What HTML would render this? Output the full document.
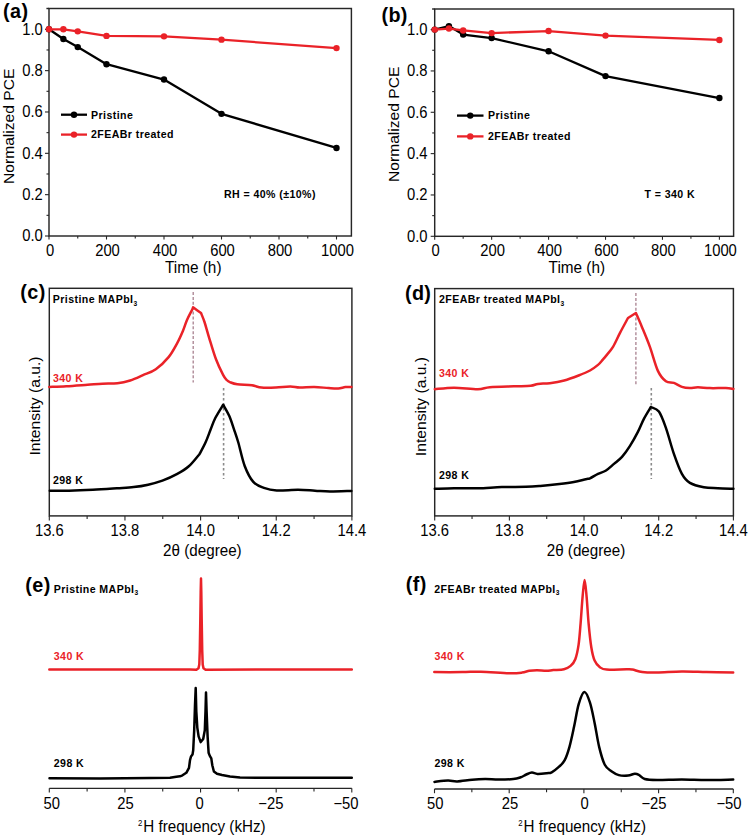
<!DOCTYPE html>
<html><head><meta charset="utf-8"><title>Figure</title>
<style>
html,body{margin:0;padding:0;background:#fff;}
svg{display:block;}
text{font-family:"Liberation Sans",sans-serif;}
</style></head>
<body>
<svg width="751" height="837" viewBox="0 0 751 837">
<rect x="0" y="0" width="751" height="837" fill="#fff"/>
<rect x="49" y="8.5" width="302.4" height="227.5" fill="none" stroke="#262626" stroke-width="1.45"/>
<line x1="46.4" y1="8.5" x2="49" y2="8.5" stroke="#262626" stroke-width="1.45" />
<line x1="45" y1="236" x2="49" y2="236" stroke="#262626" stroke-width="1.1" />
<text transform="translate(42.8,241.3) scale(1,1.07)" font-size="14.8" font-weight="normal" text-anchor="end" fill="#000" >0.0</text>
<line x1="46.5" y1="215.33" x2="49" y2="215.33" stroke="#262626" stroke-width="1.1" />
<line x1="45" y1="194.66" x2="49" y2="194.66" stroke="#262626" stroke-width="1.1" />
<text transform="translate(42.8,199.96) scale(1,1.07)" font-size="14.8" font-weight="normal" text-anchor="end" fill="#000" >0.2</text>
<line x1="46.5" y1="173.99" x2="49" y2="173.99" stroke="#262626" stroke-width="1.1" />
<line x1="45" y1="153.32" x2="49" y2="153.32" stroke="#262626" stroke-width="1.1" />
<text transform="translate(42.8,158.62) scale(1,1.07)" font-size="14.8" font-weight="normal" text-anchor="end" fill="#000" >0.4</text>
<line x1="46.5" y1="132.65" x2="49" y2="132.65" stroke="#262626" stroke-width="1.1" />
<line x1="45" y1="111.98" x2="49" y2="111.98" stroke="#262626" stroke-width="1.1" />
<text transform="translate(42.8,117.28) scale(1,1.07)" font-size="14.8" font-weight="normal" text-anchor="end" fill="#000" >0.6</text>
<line x1="46.5" y1="91.31" x2="49" y2="91.31" stroke="#262626" stroke-width="1.1" />
<line x1="45" y1="70.64" x2="49" y2="70.64" stroke="#262626" stroke-width="1.1" />
<text transform="translate(42.8,75.94) scale(1,1.07)" font-size="14.8" font-weight="normal" text-anchor="end" fill="#000" >0.8</text>
<line x1="46.5" y1="49.97" x2="49" y2="49.97" stroke="#262626" stroke-width="1.1" />
<line x1="45" y1="29.3" x2="49" y2="29.3" stroke="#262626" stroke-width="1.1" />
<text transform="translate(42.8,34.6) scale(1,1.07)" font-size="14.8" font-weight="normal" text-anchor="end" fill="#000" >1.0</text>
<line x1="49" y1="236" x2="49" y2="239.5" stroke="#262626" stroke-width="1.1" />
<text transform="translate(50,256.2) scale(1,1.07)" font-size="14.8" font-weight="normal" text-anchor="middle" fill="#000" >0</text>
<line x1="77.75" y1="236" x2="77.75" y2="238.5" stroke="#262626" stroke-width="1.1" />
<line x1="106.5" y1="236" x2="106.5" y2="239.5" stroke="#262626" stroke-width="1.1" />
<text transform="translate(107.5,256.2) scale(1,1.07)" font-size="14.8" font-weight="normal" text-anchor="middle" fill="#000" >200</text>
<line x1="135.25" y1="236" x2="135.25" y2="238.5" stroke="#262626" stroke-width="1.1" />
<line x1="164" y1="236" x2="164" y2="239.5" stroke="#262626" stroke-width="1.1" />
<text transform="translate(165,256.2) scale(1,1.07)" font-size="14.8" font-weight="normal" text-anchor="middle" fill="#000" >400</text>
<line x1="192.75" y1="236" x2="192.75" y2="238.5" stroke="#262626" stroke-width="1.1" />
<line x1="221.5" y1="236" x2="221.5" y2="239.5" stroke="#262626" stroke-width="1.1" />
<text transform="translate(222.5,256.2) scale(1,1.07)" font-size="14.8" font-weight="normal" text-anchor="middle" fill="#000" >600</text>
<line x1="250.25" y1="236" x2="250.25" y2="238.5" stroke="#262626" stroke-width="1.1" />
<line x1="279" y1="236" x2="279" y2="239.5" stroke="#262626" stroke-width="1.1" />
<text transform="translate(280,256.2) scale(1,1.07)" font-size="14.8" font-weight="normal" text-anchor="middle" fill="#000" >800</text>
<line x1="307.75" y1="236" x2="307.75" y2="238.5" stroke="#262626" stroke-width="1.1" />
<line x1="336.5" y1="236" x2="336.5" y2="239.5" stroke="#262626" stroke-width="1.1" />
<text transform="translate(337.5,256.2) scale(1,1.07)" font-size="14.8" font-weight="normal" text-anchor="middle" fill="#000" >1000</text>
<text transform="translate(165,272.9) scale(1,1.07)" font-size="15.35" font-weight="normal" text-anchor="start" fill="#000" >Time (h)</text>
<text transform="translate(13.6,126.3) scale(1,1.028) rotate(-90)" font-size="15.2" font-weight="normal" text-anchor="middle" fill="#000" >Normalized PCE</text>
<text transform="translate(3,17.6) scale(1,1.0)" font-size="19.8" font-weight="bold" text-anchor="start" fill="#000" letter-spacing="0.4">(a)</text>
<polyline points="49,29.3 63.38,39.01 77.75,47.08 106.5,64.23 164,79.53 221.5,113.84 336.5,147.95" fill="none" stroke="#000" stroke-width="2.3" stroke-linejoin="round" stroke-linecap="round" />
<circle cx="49" cy="29.3" r="3.2" fill="#000"/>
<circle cx="63.38" cy="39.01" r="3.2" fill="#000"/>
<circle cx="77.75" cy="47.08" r="3.2" fill="#000"/>
<circle cx="106.5" cy="64.23" r="3.2" fill="#000"/>
<circle cx="164" cy="79.53" r="3.2" fill="#000"/>
<circle cx="221.5" cy="113.84" r="3.2" fill="#000"/>
<circle cx="336.5" cy="147.95" r="3.2" fill="#000"/>
<polyline points="49,29.3 63.38,29.3 77.75,31.37 106.5,35.91 164,36.33 221.5,39.64 336.5,48.11" fill="none" stroke="#ea2228" stroke-width="2.3" stroke-linejoin="round" stroke-linecap="round" />
<circle cx="49" cy="29.3" r="3.2" fill="#ea2228"/>
<circle cx="63.38" cy="29.3" r="3.2" fill="#ea2228"/>
<circle cx="77.75" cy="31.37" r="3.2" fill="#ea2228"/>
<circle cx="106.5" cy="35.91" r="3.2" fill="#ea2228"/>
<circle cx="164" cy="36.33" r="3.2" fill="#ea2228"/>
<circle cx="221.5" cy="39.64" r="3.2" fill="#ea2228"/>
<circle cx="336.5" cy="48.11" r="3.2" fill="#ea2228"/>
<line x1="61" y1="114.7" x2="87" y2="114.7" stroke="#000" stroke-width="2.3" />
<circle cx="74" cy="114.7" r="3.2" fill="#000"/>
<line x1="61" y1="134.6" x2="87" y2="134.6" stroke="#ea2228" stroke-width="2.3" />
<circle cx="74" cy="134.6" r="3.2" fill="#ea2228"/>
<text transform="translate(91,118.5) scale(1,1.07)" font-size="10.6" font-weight="bold" text-anchor="start" fill="#000"  letter-spacing="0.42">Pristine</text>
<text transform="translate(91,138.2) scale(1,1.07)" font-size="10.6" font-weight="bold" text-anchor="start" fill="#000"  letter-spacing="0.42">2FEABr treated</text>
<text transform="translate(224,198.4) scale(1,1.07)" font-size="10.6" font-weight="bold" text-anchor="start" fill="#000"  letter-spacing="0.42">RH = 40% (±10%)</text>
<rect x="434.7" y="9" width="298.9" height="227.3" fill="none" stroke="#262626" stroke-width="1.45"/>
<line x1="432.1" y1="9" x2="434.7" y2="9" stroke="#262626" stroke-width="1.45" />
<line x1="430.7" y1="236.3" x2="434.7" y2="236.3" stroke="#262626" stroke-width="1.1" />
<text transform="translate(427.5,241.6) scale(1,1.07)" font-size="14.8" font-weight="normal" text-anchor="end" fill="#000" >0.0</text>
<line x1="432.2" y1="215.63" x2="434.7" y2="215.63" stroke="#262626" stroke-width="1.1" />
<line x1="430.7" y1="194.96" x2="434.7" y2="194.96" stroke="#262626" stroke-width="1.1" />
<text transform="translate(427.5,200.26) scale(1,1.07)" font-size="14.8" font-weight="normal" text-anchor="end" fill="#000" >0.2</text>
<line x1="432.2" y1="174.29" x2="434.7" y2="174.29" stroke="#262626" stroke-width="1.1" />
<line x1="430.7" y1="153.62" x2="434.7" y2="153.62" stroke="#262626" stroke-width="1.1" />
<text transform="translate(427.5,158.92) scale(1,1.07)" font-size="14.8" font-weight="normal" text-anchor="end" fill="#000" >0.4</text>
<line x1="432.2" y1="132.95" x2="434.7" y2="132.95" stroke="#262626" stroke-width="1.1" />
<line x1="430.7" y1="112.28" x2="434.7" y2="112.28" stroke="#262626" stroke-width="1.1" />
<text transform="translate(427.5,117.58) scale(1,1.07)" font-size="14.8" font-weight="normal" text-anchor="end" fill="#000" >0.6</text>
<line x1="432.2" y1="91.61" x2="434.7" y2="91.61" stroke="#262626" stroke-width="1.1" />
<line x1="430.7" y1="70.94" x2="434.7" y2="70.94" stroke="#262626" stroke-width="1.1" />
<text transform="translate(427.5,76.24) scale(1,1.07)" font-size="14.8" font-weight="normal" text-anchor="end" fill="#000" >0.8</text>
<line x1="432.2" y1="50.27" x2="434.7" y2="50.27" stroke="#262626" stroke-width="1.1" />
<line x1="430.7" y1="29.6" x2="434.7" y2="29.6" stroke="#262626" stroke-width="1.1" />
<text transform="translate(427.5,34.9) scale(1,1.07)" font-size="14.8" font-weight="normal" text-anchor="end" fill="#000" >1.0</text>
<line x1="434.7" y1="236.3" x2="434.7" y2="239.8" stroke="#262626" stroke-width="1.1" />
<text transform="translate(435.7,256.2) scale(1,1.07)" font-size="14.8" font-weight="normal" text-anchor="middle" fill="#000" >0</text>
<line x1="463.17" y1="236.3" x2="463.17" y2="238.8" stroke="#262626" stroke-width="1.1" />
<line x1="491.64" y1="236.3" x2="491.64" y2="239.8" stroke="#262626" stroke-width="1.1" />
<text transform="translate(492.64,256.2) scale(1,1.07)" font-size="14.8" font-weight="normal" text-anchor="middle" fill="#000" >200</text>
<line x1="520.11" y1="236.3" x2="520.11" y2="238.8" stroke="#262626" stroke-width="1.1" />
<line x1="548.58" y1="236.3" x2="548.58" y2="239.8" stroke="#262626" stroke-width="1.1" />
<text transform="translate(549.58,256.2) scale(1,1.07)" font-size="14.8" font-weight="normal" text-anchor="middle" fill="#000" >400</text>
<line x1="577.05" y1="236.3" x2="577.05" y2="238.8" stroke="#262626" stroke-width="1.1" />
<line x1="605.52" y1="236.3" x2="605.52" y2="239.8" stroke="#262626" stroke-width="1.1" />
<text transform="translate(606.52,256.2) scale(1,1.07)" font-size="14.8" font-weight="normal" text-anchor="middle" fill="#000" >600</text>
<line x1="633.99" y1="236.3" x2="633.99" y2="238.8" stroke="#262626" stroke-width="1.1" />
<line x1="662.46" y1="236.3" x2="662.46" y2="239.8" stroke="#262626" stroke-width="1.1" />
<text transform="translate(663.46,256.2) scale(1,1.07)" font-size="14.8" font-weight="normal" text-anchor="middle" fill="#000" >800</text>
<line x1="690.93" y1="236.3" x2="690.93" y2="238.8" stroke="#262626" stroke-width="1.1" />
<line x1="719.4" y1="236.3" x2="719.4" y2="239.8" stroke="#262626" stroke-width="1.1" />
<text transform="translate(720.4,256.2) scale(1,1.07)" font-size="14.8" font-weight="normal" text-anchor="middle" fill="#000" >1000</text>
<text transform="translate(548.6,272.9) scale(1,1.07)" font-size="15.35" font-weight="normal" text-anchor="start" fill="#000" >Time (h)</text>
<text transform="translate(399.2,124.3) scale(1,1.028) rotate(-90)" font-size="15.2" font-weight="normal" text-anchor="middle" fill="#000" >Normalized PCE</text>
<text transform="translate(381.4,21.7) scale(1,1.0)" font-size="19.8" font-weight="bold" text-anchor="start" fill="#000" letter-spacing="0.4">(b)</text>
<polyline points="434.7,29.6 448.94,26.09 463.17,34.56 491.64,38.07 548.58,51.3 605.52,76.11 719.4,98.02" fill="none" stroke="#000" stroke-width="2.3" stroke-linejoin="round" stroke-linecap="round" />
<circle cx="434.7" cy="29.6" r="3.2" fill="#000"/>
<circle cx="448.94" cy="26.09" r="3.2" fill="#000"/>
<circle cx="463.17" cy="34.56" r="3.2" fill="#000"/>
<circle cx="491.64" cy="38.07" r="3.2" fill="#000"/>
<circle cx="548.58" cy="51.3" r="3.2" fill="#000"/>
<circle cx="605.52" cy="76.11" r="3.2" fill="#000"/>
<circle cx="719.4" cy="98.02" r="3.2" fill="#000"/>
<polyline points="434.7,29.6 448.94,28.57 463.17,30.43 491.64,33.11 548.58,31.05 605.52,35.59 719.4,39.94" fill="none" stroke="#ea2228" stroke-width="2.3" stroke-linejoin="round" stroke-linecap="round" />
<circle cx="434.7" cy="29.6" r="3.2" fill="#ea2228"/>
<circle cx="448.94" cy="28.57" r="3.2" fill="#ea2228"/>
<circle cx="463.17" cy="30.43" r="3.2" fill="#ea2228"/>
<circle cx="491.64" cy="33.11" r="3.2" fill="#ea2228"/>
<circle cx="548.58" cy="31.05" r="3.2" fill="#ea2228"/>
<circle cx="605.52" cy="35.59" r="3.2" fill="#ea2228"/>
<circle cx="719.4" cy="39.94" r="3.2" fill="#ea2228"/>
<line x1="457" y1="115.6" x2="483.5" y2="115.6" stroke="#000" stroke-width="2.3" />
<circle cx="470.25" cy="115.6" r="3.2" fill="#000"/>
<line x1="457" y1="136.4" x2="483.5" y2="136.4" stroke="#ea2228" stroke-width="2.3" />
<circle cx="470.25" cy="136.4" r="3.2" fill="#ea2228"/>
<text transform="translate(488,119.4) scale(1,1.07)" font-size="10.6" font-weight="bold" text-anchor="start" fill="#000"  letter-spacing="0.42">Pristine</text>
<text transform="translate(488,140) scale(1,1.07)" font-size="10.6" font-weight="bold" text-anchor="start" fill="#000"  letter-spacing="0.42">2FEABr treated</text>
<text transform="translate(644.5,198.3) scale(1,1.07)" font-size="10.6" font-weight="bold" text-anchor="start" fill="#000"  letter-spacing="0.42">T = 340 K</text>
<rect x="49.3" y="288.3" width="302.6" height="227.6" fill="none" stroke="#262626" stroke-width="1.45"/>
<line x1="49.3" y1="515.9" x2="49.3" y2="520.5" stroke="#262626" stroke-width="1.1" />
<text transform="translate(49.3,535.6) scale(1,1.07)" font-size="14.8" font-weight="normal" text-anchor="middle" fill="#000" >13.6</text>
<line x1="87.12" y1="515.9" x2="87.12" y2="518.9" stroke="#262626" stroke-width="1.1" />
<line x1="124.95" y1="515.9" x2="124.95" y2="520.5" stroke="#262626" stroke-width="1.1" />
<text transform="translate(124.95,535.6) scale(1,1.07)" font-size="14.8" font-weight="normal" text-anchor="middle" fill="#000" >13.8</text>
<line x1="162.77" y1="515.9" x2="162.77" y2="518.9" stroke="#262626" stroke-width="1.1" />
<line x1="200.6" y1="515.9" x2="200.6" y2="520.5" stroke="#262626" stroke-width="1.1" />
<text transform="translate(200.6,535.6) scale(1,1.07)" font-size="14.8" font-weight="normal" text-anchor="middle" fill="#000" >14.0</text>
<line x1="238.42" y1="515.9" x2="238.42" y2="518.9" stroke="#262626" stroke-width="1.1" />
<line x1="276.25" y1="515.9" x2="276.25" y2="520.5" stroke="#262626" stroke-width="1.1" />
<text transform="translate(276.25,535.6) scale(1,1.07)" font-size="14.8" font-weight="normal" text-anchor="middle" fill="#000" >14.2</text>
<line x1="314.07" y1="515.9" x2="314.07" y2="518.9" stroke="#262626" stroke-width="1.1" />
<line x1="351.9" y1="515.9" x2="351.9" y2="520.5" stroke="#262626" stroke-width="1.1" />
<text transform="translate(351.9,535.6) scale(1,1.07)" font-size="14.8" font-weight="normal" text-anchor="middle" fill="#000" >14.4</text>
<text transform="translate(163.1,555.8) scale(1,1.07)" font-size="15.2" font-weight="normal" text-anchor="start" fill="#000" >2θ (degree)</text>
<text transform="translate(40,406) scale(1,1.03) rotate(-90)" font-size="15.2" font-weight="normal" text-anchor="middle" fill="#000" >Intensity (a.u.)</text>
<text transform="translate(20.3,299.2) scale(1,1.0)" font-size="19.8" font-weight="bold" text-anchor="start" fill="#000" letter-spacing="0.4">(c)</text>
<text transform="translate(52.8,303.4) scale(1,1.07)" font-size="10.6" font-weight="bold" text-anchor="start" fill="#000"  letter-spacing="0.42">Pristine MAPbI<tspan font-size="6.6" dy="2.1">3</tspan></text>
<line x1="193.2" y1="292" x2="193.2" y2="382.5" stroke="#a8808f" stroke-width="1.3" stroke-dasharray="3,1.9"/>
<line x1="223.6" y1="388" x2="223.6" y2="479" stroke="#8a8a8a" stroke-width="1.6" stroke-dasharray="2.6,2.4"/>
<path d="M49.3,386.9 C52.13,386.8 59.92,386.65 66.3,386.3 C72.68,385.95 81.57,385.23 87.6,384.8 C93.63,384.37 97.53,383.95 102.5,383.7 C107.47,383.45 112.78,383.83 117.4,383.3 C122.02,382.77 125.93,381.85 130.2,380.5 C134.47,379.15 138.73,377.08 143,375.2 C147.27,373.32 151.53,372.22 155.8,369.2 C160.07,366.18 165.05,361.42 168.6,357.1 C172.15,352.78 174.7,347.7 177.1,343.3 C179.5,338.9 181.35,334.58 183,330.7 C184.65,326.82 185.5,323.45 187,320 C188.5,316.55 190.98,312.12 192,310 C193.02,307.88 192.92,307.75 193.1,307.3 C194.42,308.25 199.68,312.05 201,313 C201.58,314.5 203.17,317.95 204.5,322 C205.83,326.05 207.08,331.08 209,337.3 C210.92,343.52 213.65,353.03 216,359.3 C218.35,365.57 221.32,371.45 223.1,374.9 C224.88,378.35 225.5,378.77 226.7,380 C227.9,381.23 228.53,381.58 230.3,382.3 C232.07,383.02 233.7,383.8 237.3,384.3 C240.9,384.8 247.87,384.75 251.9,385.3 C255.93,385.85 257.5,387.22 261.5,387.6 C265.5,387.98 271.1,387.77 275.9,387.6 C280.7,387.43 286.32,386.6 290.3,386.6 C294.28,386.6 295.82,387.55 299.8,387.6 C303.78,387.65 309.4,386.82 314.2,386.9 C319,386.98 324.6,387.83 328.6,388.1 C332.6,388.37 335.4,388.67 338.2,388.5 C341,388.33 343.2,387.33 345.4,387.1 C347.6,386.87 350.4,387.1 351.4,387.1" fill="none" stroke="#ea2228" stroke-width="2.5" stroke-linejoin="round" stroke-linecap="round"/>
<path d="M49.8,490.7 C53,490.7 61.82,490.85 69,490.7 C76.18,490.55 84.92,490.2 92.9,489.8 C100.88,489.4 110.1,488.75 116.9,488.3 C123.7,487.85 128.5,487.7 133.7,487.1 C138.9,486.5 143.32,485.77 148.1,484.7 C152.88,483.63 157.62,482.45 162.4,480.7 C167.18,478.95 172.4,476.6 176.8,474.2 C181.2,471.8 185.2,469.42 188.8,466.3 C192.4,463.18 196.53,457.68 198.4,455.5 C200.27,453.32 198.8,455.4 200,453.2 C201.2,451 203.82,446.28 205.6,442.3 C207.38,438.32 209.08,433.35 210.7,429.3 C212.32,425.25 213.22,422.1 215.3,418 C217.38,413.9 221.88,406.92 223.2,404.7 C224.22,406.58 227.5,411.9 229.3,416 C231.1,420.1 232.5,424.88 234,429.3 C235.5,433.72 236.52,436.38 238.3,442.5 C240.08,448.62 242.2,459.43 244.7,466 C247.2,472.57 250.1,478.25 253.3,481.9 C256.5,485.55 260,486.47 263.9,487.9 C267.8,489.33 271.02,490.18 276.7,490.5 C282.38,490.82 291.62,489.77 298,489.8 C304.38,489.83 309.67,490.42 315,490.7 C320.33,490.98 323.95,491.47 330,491.5 C336.05,491.53 347.75,491 351.3,490.9" fill="none" stroke="#000" stroke-width="2.5" stroke-linejoin="round" stroke-linecap="round"/>
<text transform="translate(53,382.2) scale(1,1.07)" font-size="10.6" font-weight="bold" text-anchor="start" fill="#ea2228"  letter-spacing="0.42">340 K</text>
<text transform="translate(53,483.5) scale(1,1.07)" font-size="10.6" font-weight="bold" text-anchor="start" fill="#000"  letter-spacing="0.42">298 K</text>
<rect x="434.7" y="288.6" width="298.7" height="227.3" fill="none" stroke="#262626" stroke-width="1.45"/>
<line x1="434.7" y1="515.9" x2="434.7" y2="520.5" stroke="#262626" stroke-width="1.1" />
<text transform="translate(434.7,535.6) scale(1,1.07)" font-size="14.8" font-weight="normal" text-anchor="middle" fill="#000" >13.6</text>
<line x1="472.04" y1="515.9" x2="472.04" y2="518.9" stroke="#262626" stroke-width="1.1" />
<line x1="509.38" y1="515.9" x2="509.38" y2="520.5" stroke="#262626" stroke-width="1.1" />
<text transform="translate(509.38,535.6) scale(1,1.07)" font-size="14.8" font-weight="normal" text-anchor="middle" fill="#000" >13.8</text>
<line x1="546.71" y1="515.9" x2="546.71" y2="518.9" stroke="#262626" stroke-width="1.1" />
<line x1="584.05" y1="515.9" x2="584.05" y2="520.5" stroke="#262626" stroke-width="1.1" />
<text transform="translate(584.05,535.6) scale(1,1.07)" font-size="14.8" font-weight="normal" text-anchor="middle" fill="#000" >14.0</text>
<line x1="621.39" y1="515.9" x2="621.39" y2="518.9" stroke="#262626" stroke-width="1.1" />
<line x1="658.72" y1="515.9" x2="658.72" y2="520.5" stroke="#262626" stroke-width="1.1" />
<text transform="translate(658.72,535.6) scale(1,1.07)" font-size="14.8" font-weight="normal" text-anchor="middle" fill="#000" >14.2</text>
<line x1="696.06" y1="515.9" x2="696.06" y2="518.9" stroke="#262626" stroke-width="1.1" />
<line x1="733.4" y1="515.9" x2="733.4" y2="520.5" stroke="#262626" stroke-width="1.1" />
<text transform="translate(733.4,535.6) scale(1,1.07)" font-size="14.8" font-weight="normal" text-anchor="middle" fill="#000" >14.4</text>
<text transform="translate(546.7,555.8) scale(1,1.07)" font-size="15.2" font-weight="normal" text-anchor="start" fill="#000" >2θ (degree)</text>
<text transform="translate(426,406.6) scale(1,1.03) rotate(-90)" font-size="15.2" font-weight="normal" text-anchor="middle" fill="#000" >Intensity (a.u.)</text>
<text transform="translate(404.9,299.7) scale(1,1.0)" font-size="19.8" font-weight="bold" text-anchor="start" fill="#000" letter-spacing="0.4">(d)</text>
<text transform="translate(439,303.4) scale(1,1.07)" font-size="10.6" font-weight="bold" text-anchor="start" fill="#000"  letter-spacing="0.42">2FEABr treated MAPbI<tspan font-size="6.6" dy="2.1">3</tspan></text>
<line x1="635.9" y1="293" x2="635.9" y2="385" stroke="#a8808f" stroke-width="1.3" stroke-dasharray="3,1.9"/>
<line x1="651.3" y1="388" x2="651.3" y2="479" stroke="#8a8a8a" stroke-width="1.6" stroke-dasharray="2.6,2.4"/>
<path d="M434.8,389.2 C438,388.95 446.82,387.7 454,387.7 C461.18,387.7 471.92,389.28 477.9,389.2 C483.88,389.12 483.9,387.68 489.9,387.2 C495.9,386.72 507.1,386.53 513.9,386.3 C520.7,386.07 526.7,386.2 530.7,385.8 C534.7,385.4 534.72,384.33 537.9,383.9 C541.08,383.47 545.42,383.77 549.8,383.2 C554.18,382.63 559.4,381.78 564.2,380.5 C569,379.22 574.3,377.17 578.6,375.5 C582.9,373.83 586.77,372.27 590,370.5 C593.23,368.73 595.9,366.67 598,364.9 C600.1,363.13 601.27,361.4 602.6,359.9 C603.93,358.4 604.27,358.07 606,355.9 C607.73,353.73 610.67,350.73 613,346.9 C615.33,343.07 617.5,337.72 620,332.9 C622.5,328.08 626.67,320.48 628,318 C629.32,317.17 634.58,313.83 635.9,313 C636.9,315.32 639.57,321.25 641.9,326.9 C644.23,332.55 647.23,339.57 649.9,346.9 C652.57,354.23 655.23,365.17 657.9,370.9 C660.57,376.63 663.23,379.3 665.9,381.3 C668.57,383.3 671.23,381.97 673.9,382.9 C676.57,383.83 679.23,386.03 681.9,386.9 C684.57,387.77 687.23,388.03 689.9,388.1 C692.57,388.17 694.58,387.3 697.9,387.3 C701.22,387.3 705.15,387.97 709.8,388.1 C714.45,388.23 721.87,387.97 725.8,388.1 C729.73,388.23 732.13,388.77 733.4,388.9" fill="none" stroke="#ea2228" stroke-width="2.5" stroke-linejoin="round" stroke-linecap="round"/>
<path d="M434.8,488.8 C438,488.72 446.82,488.38 454,488.3 C461.18,488.22 469.92,488.5 477.9,488.3 C485.88,488.1 493.9,487.35 501.9,487.1 C509.9,486.85 519.5,487 525.9,486.8 C532.3,486.6 534.72,486.37 540.3,485.9 C545.88,485.43 553.82,484.65 559.4,484 C564.98,483.35 569.4,482.8 573.8,482 C578.2,481.2 583.1,479.82 585.8,479.2 C588.5,478.58 587.97,479.18 590,478.3 C592.03,477.42 595.33,475.2 598,473.9 C600.67,472.6 603.33,472.17 606,470.5 C608.67,468.83 611.33,466.17 614,463.9 C616.67,461.63 619.33,459.9 622,456.9 C624.67,453.9 627.35,450.07 630,445.9 C632.65,441.73 635.58,436.4 637.9,431.9 C640.22,427.4 641.73,423.05 643.9,418.9 C646.07,414.75 649.73,408.98 650.9,407 C652.23,407.77 656.4,408.12 658.9,411.6 C661.4,415.08 663.4,420.85 665.9,427.9 C668.4,434.95 671.23,446.23 673.9,453.9 C676.57,461.57 679.23,469.07 681.9,473.9 C684.57,478.73 686.25,480.68 689.9,482.9 C693.55,485.12 699.15,486.32 703.8,487.2 C708.45,488.08 712.87,487.93 717.8,488.2 C722.73,488.47 730.8,488.7 733.4,488.8" fill="none" stroke="#000" stroke-width="2.5" stroke-linejoin="round" stroke-linecap="round"/>
<text transform="translate(439,377.4) scale(1,1.07)" font-size="10.6" font-weight="bold" text-anchor="start" fill="#ea2228"  letter-spacing="0.42">340 K</text>
<text transform="translate(439,478.7) scale(1,1.07)" font-size="10.6" font-weight="bold" text-anchor="start" fill="#000"  letter-spacing="0.42">298 K</text>
<line x1="49.3" y1="788.3" x2="351.8" y2="788.3" stroke="#262626" stroke-width="1.3" />
<line x1="49.3" y1="788.3" x2="49.3" y2="792.5" stroke="#262626" stroke-width="1.1" />
<line x1="87.11" y1="788.3" x2="87.11" y2="791.5" stroke="#262626" stroke-width="1.1" />
<line x1="124.92" y1="788.3" x2="124.92" y2="792.5" stroke="#262626" stroke-width="1.1" />
<line x1="162.74" y1="788.3" x2="162.74" y2="791.5" stroke="#262626" stroke-width="1.1" />
<line x1="200.55" y1="788.3" x2="200.55" y2="792.5" stroke="#262626" stroke-width="1.1" />
<line x1="238.36" y1="788.3" x2="238.36" y2="791.5" stroke="#262626" stroke-width="1.1" />
<line x1="276.18" y1="788.3" x2="276.18" y2="792.5" stroke="#262626" stroke-width="1.1" />
<line x1="313.99" y1="788.3" x2="313.99" y2="791.5" stroke="#262626" stroke-width="1.1" />
<line x1="351.8" y1="788.3" x2="351.8" y2="792.5" stroke="#262626" stroke-width="1.1" />
<text transform="translate(51.7,808.8) scale(1,1.07)" font-size="14.8" font-weight="normal" text-anchor="middle" fill="#000" >50</text>
<text transform="translate(125.4,808.8) scale(1,1.07)" font-size="14.8" font-weight="normal" text-anchor="middle" fill="#000" >25</text>
<text transform="translate(199.6,808.8) scale(1,1.07)" font-size="14.8" font-weight="normal" text-anchor="middle" fill="#000" >0</text>
<text transform="translate(283.4,808.8) scale(1,1.07)" font-size="14.8" font-weight="normal" text-anchor="end" fill="#000" >−25</text>
<text transform="translate(358.5,808.8) scale(1,1.07)" font-size="14.8" font-weight="normal" text-anchor="end" fill="#000" >−50</text>
<text transform="translate(138,831.5) scale(1,1.07)" font-size="15.2" font-weight="normal" text-anchor="start" fill="#000" ><tspan font-size="7.8" dy="-4.8">2</tspan><tspan dy="4.8" dx="0.9">H frequency (kHz)</tspan></text>
<text transform="translate(25.3,591.6) scale(1,1.0)" font-size="19.8" font-weight="bold" text-anchor="start" fill="#000" letter-spacing="0.4">(e)</text>
<text transform="translate(53.8,592.5) scale(1,1.07)" font-size="10.6" font-weight="bold" text-anchor="start" fill="#000"  letter-spacing="0.42">Pristine MAPbI<tspan font-size="6.6" dy="2.1">3</tspan></text>
<polyline points="49.3,669.6 120,669.4 190,669.6 196.4,669.7 198.5,668.2 199.3,664.5 199.8,650 200.3,620 200.7,592 201,578.6 201.3,592 201.7,620 202.2,650 202.7,664.5 203.5,668.2 205.6,669.7 260,669.5 351.8,669.6" fill="none" stroke="#ea2228" stroke-width="2.5" stroke-linejoin="round" stroke-linecap="round" />
<polyline points="49.5,778.2 100,778.4 150,778 170,777.8 176.3,776.8 180,776.3 182.5,775.3 186.3,772.8 189,767.8 190,760.2 191,756.5 192.5,754.6 193.2,750.2 194.2,730.2 195,705 195.7,688.1 196.3,711.3 197.3,727.6 198.6,736.4 200.7,742.1 203.2,738.9 204.8,730.2 205.5,711.3 206,692.5 206.6,711.3 207.6,736.4 208.6,752.7 209.8,755.9 211.3,758.4 212.3,765.3 213.9,771.5 217,773.8 222,775 230,776.5 240,777.6 300,777.8 351.8,777.7" fill="none" stroke="#000" stroke-width="2.5" stroke-linejoin="round" stroke-linecap="round" />
<text transform="translate(53.8,660) scale(1,1.07)" font-size="10.6" font-weight="bold" text-anchor="start" fill="#ea2228"  letter-spacing="0.42">340 K</text>
<text transform="translate(53.8,766.6) scale(1,1.07)" font-size="10.6" font-weight="bold" text-anchor="start" fill="#000"  letter-spacing="0.42">298 K</text>
<line x1="434.5" y1="789" x2="733.3" y2="789" stroke="#262626" stroke-width="1.3" />
<line x1="434.5" y1="789" x2="434.5" y2="793.2" stroke="#262626" stroke-width="1.1" />
<line x1="471.85" y1="789" x2="471.85" y2="792.2" stroke="#262626" stroke-width="1.1" />
<line x1="509.2" y1="789" x2="509.2" y2="793.2" stroke="#262626" stroke-width="1.1" />
<line x1="546.55" y1="789" x2="546.55" y2="792.2" stroke="#262626" stroke-width="1.1" />
<line x1="583.9" y1="789" x2="583.9" y2="793.2" stroke="#262626" stroke-width="1.1" />
<line x1="621.25" y1="789" x2="621.25" y2="792.2" stroke="#262626" stroke-width="1.1" />
<line x1="658.6" y1="789" x2="658.6" y2="793.2" stroke="#262626" stroke-width="1.1" />
<line x1="695.95" y1="789" x2="695.95" y2="792.2" stroke="#262626" stroke-width="1.1" />
<line x1="733.3" y1="789" x2="733.3" y2="793.2" stroke="#262626" stroke-width="1.1" />
<text transform="translate(435.2,808.8) scale(1,1.07)" font-size="14.8" font-weight="normal" text-anchor="middle" fill="#000" >50</text>
<text transform="translate(509.9,808.8) scale(1,1.07)" font-size="14.8" font-weight="normal" text-anchor="middle" fill="#000" >25</text>
<text transform="translate(584.5,808.8) scale(1,1.07)" font-size="14.8" font-weight="normal" text-anchor="middle" fill="#000" >0</text>
<text transform="translate(666.5,808.8) scale(1,1.07)" font-size="14.8" font-weight="normal" text-anchor="end" fill="#000" >−25</text>
<text transform="translate(741.5,808.8) scale(1,1.07)" font-size="14.8" font-weight="normal" text-anchor="end" fill="#000" >−50</text>
<text transform="translate(518.3,831.5) scale(1,1.07)" font-size="15.2" font-weight="normal" text-anchor="start" fill="#000" ><tspan font-size="7.8" dy="-4.8">2</tspan><tspan dy="4.8" dx="0.9">H frequency (kHz)</tspan></text>
<text transform="translate(405.8,591.3) scale(1,1.0)" font-size="19.8" font-weight="bold" text-anchor="start" fill="#000" letter-spacing="0.4">(f)</text>
<text transform="translate(434.3,592.6) scale(1,1.07)" font-size="10.6" font-weight="bold" text-anchor="start" fill="#000"  letter-spacing="0.42">2FEABr treated MAPbI<tspan font-size="6.6" dy="2.1">3</tspan></text>
<path d="M434.3,672.1 C438.97,672.1 454.53,672.17 462.3,672.1 C470.07,672.03 473.13,671.52 480.9,671.7 C488.67,671.88 502.07,673.05 508.9,673.2 C515.73,673.35 518.48,673 521.9,672.6 C525.32,672.2 526.9,671.2 529.4,670.8 C531.9,670.4 534.1,670.2 536.9,670.2 C539.7,670.2 543.47,670.82 546.2,670.8 C548.93,670.78 550.33,670.37 553.3,670.1 C556.27,669.83 561.12,669.9 564,669.2 C566.88,668.5 568.72,667.57 570.6,665.9 C572.48,664.23 573.97,662.75 575.3,659.2 C576.63,655.65 577.72,650.58 578.6,644.6 C579.48,638.62 579.93,631.3 580.6,623.3 C581.27,615.3 581.93,603.82 582.6,596.6 C583.27,589.38 583.93,580 584.6,580 C585.27,580 585.93,589.38 586.6,596.6 C587.27,603.82 587.82,614.87 588.6,623.3 C589.38,631.73 590.3,641 591.3,647.2 C592.3,653.4 593.17,657.17 594.6,660.5 C596.03,663.83 597.9,665.68 599.9,667.2 C601.9,668.72 602.15,669.27 606.6,669.6 C611.05,669.93 622.3,669.22 626.6,669.2 C630.9,669.18 629.8,669.03 632.4,669.5 C635,669.97 638.08,671.5 642.2,672 C646.32,672.5 650.5,672.58 657.1,672.5 C663.7,672.42 673.57,671.58 681.8,671.5 C690.03,671.42 697.93,671.83 706.5,672 C715.07,672.17 728.75,672.42 733.2,672.5" fill="none" stroke="#ea2228" stroke-width="2.5" stroke-linejoin="round" stroke-linecap="round"/>
<path d="M434.5,781.9 C436.75,781.68 444.2,780.68 448,780.6 C451.8,780.52 453.27,781.55 457.3,781.4 C461.33,781.25 467.55,780.08 472.2,779.7 C476.85,779.32 480.85,779.13 485.2,779.1 C489.55,779.07 493.63,779.5 498.3,779.5 C502.97,779.5 509.47,779.47 513.2,779.1 C516.93,778.73 518.52,778.07 520.7,777.3 C522.88,776.53 524.43,775.28 526.3,774.5 C528.17,773.72 530.03,772.7 531.9,772.6 C533.77,772.5 535.02,773.8 537.5,773.9 C539.98,774 544.43,773.47 546.8,773.2 C549.17,772.93 549.65,773.38 551.7,772.3 C553.75,771.22 556.93,768.72 559.1,766.7 C561.27,764.68 562.98,763.47 564.7,760.2 C566.42,756.93 567.83,752.7 569.4,747.1 C570.97,741.5 572.55,733.75 574.1,726.6 C575.65,719.45 577,709.95 578.7,704.2 C580.4,698.45 582.43,692.4 584.3,692.1 C586.17,691.8 588.18,697.27 589.9,702.4 C591.62,707.53 593.05,715.45 594.6,722.9 C596.15,730.35 597.5,740.12 599.2,747.1 C600.9,754.08 602.77,760.77 604.8,764.8 C606.83,768.83 609.07,769.58 611.4,771.3 C613.73,773.02 616.02,774.4 618.8,775.1 C621.58,775.8 625.43,775.72 628.1,775.5 C630.77,775.28 632.98,773.88 634.8,773.8 C636.62,773.72 637.35,774.13 639,775 C640.65,775.87 641.68,778.17 644.7,779 C647.72,779.83 650.92,779.92 657.1,780 C663.28,780.08 673.57,779.5 681.8,779.5 C690.03,779.5 697.93,780 706.5,780 C715.07,780 728.75,779.58 733.2,779.5" fill="none" stroke="#000" stroke-width="2.5" stroke-linejoin="round" stroke-linecap="round"/>
<text transform="translate(434.5,660) scale(1,1.07)" font-size="10.6" font-weight="bold" text-anchor="start" fill="#ea2228"  letter-spacing="0.42">340 K</text>
<text transform="translate(434.5,766.7) scale(1,1.07)" font-size="10.6" font-weight="bold" text-anchor="start" fill="#000"  letter-spacing="0.42">298 K</text>
</svg>
</body></html>
